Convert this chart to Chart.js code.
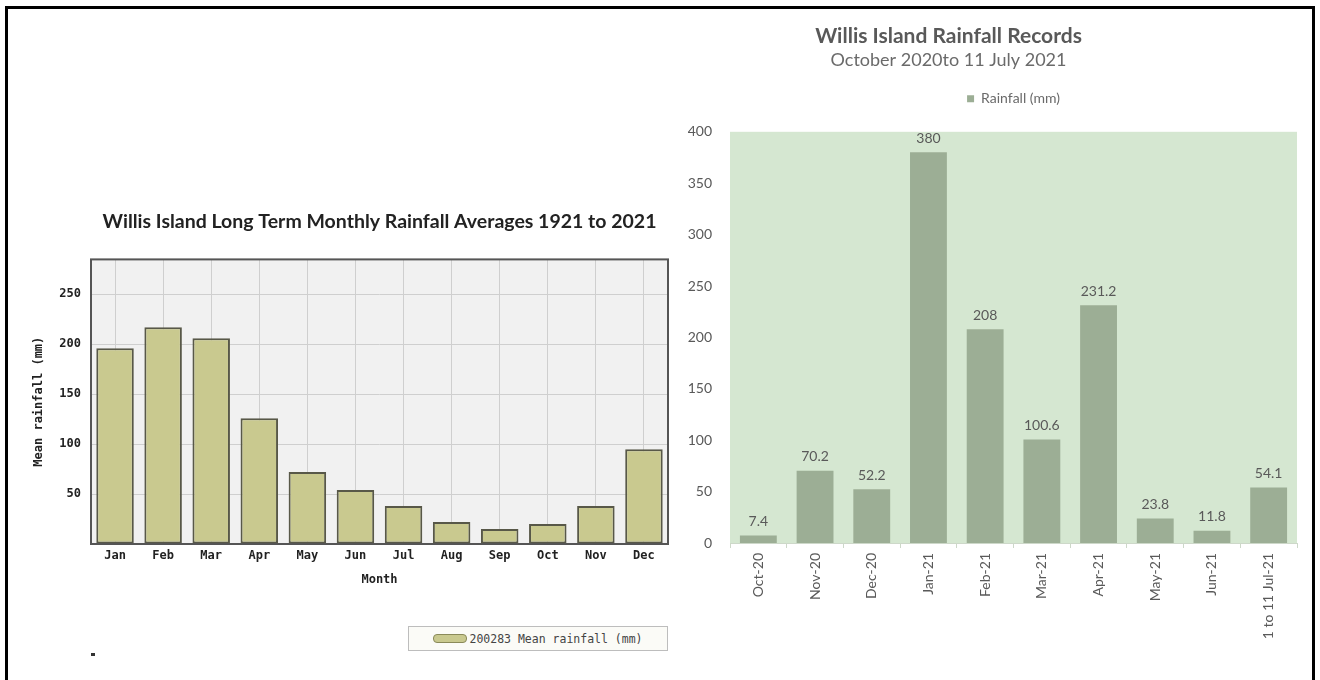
<!DOCTYPE html>
<html>
<head>
<meta charset="utf-8">
<script src="https://cdn.jsdelivr.net/npm/chart.js@4.4.1/dist/chart.umd.min.js"></script>
<style>
  html, body { margin: 0; padding: 0; background: #fff; }
  body { width: 1320px; height: 680px; position: relative; overflow: hidden; }
  #frame { position: absolute; left: 5px; top: 6px; width: 1304px; height: 700px; border: 3px solid #000; border-bottom: none; }
  #boxLeft { position: absolute; left: 20px; top: 195px; width: 660px; height: 400px; }
  #boxRight { position: absolute; left: 600px; top: 0; width: 710px; height: 680px; }
  #legendLeft { position: absolute; left: 408px; top: 626px; width: 258px; height: 23px; border: 1px solid #bdbdbd;
    background: #fbfbf7; font: 11.5px 'DejaVu Sans Mono', monospace; color: #444;
    display: flex; align-items: center; justify-content: center; }
  #legendLeft .sw { width: 32px; height: 7px; border: 1px solid #8a8a5a; border-radius: 4px; background: #c9c98f; margin-right: 2px; }
  #dot { position: absolute; left: 91px; top: 653px; width: 4px; height: 3px; background: #333; }
</style>
</head>
<body>
<div id="frame"></div>
<div id="boxLeft"><canvas id="chartLeft"></canvas></div>
<div id="boxRight"><canvas id="chartRight"></canvas></div>
<div id="legendLeft"><span class="sw"></span><span>200283 Mean rainfall (mm)</span></div>
<div id="dot"></div>
<script>
// long term monthly means (left chart)
const meses = ['Jan', 'Feb', 'Mar', 'Apr', 'May', 'Jun', 'Jul', 'Aug', 'Sep', 'Oct', 'Nov', 'Dec'];
const mediaMensal = [196, 217, 206, 126, 72, 54, 38, 22, 15, 20, 38, 95];

// recent records (right chart)
const periodos = ['Oct-20', 'Nov-20', 'Dec-20', 'Jan-21', 'Feb-21', 'Mar-21', 'Apr-21', 'May-21', 'Jun-21', '1 to 11 Jul-21'];
const chuva = [7.4, 70.2, 52.2, 380, 208, 100.6, 231.2, 23.8, 11.8, 54.1];
const ticksDireita = [0, 50, 100, 150, 200, 250, 300, 350, 400];

const mono = "'DejaVu Sans Mono', monospace";
const sans = "Lato, 'Open Sans', sans-serif";

// fills (and optionally frames) the plot area
const plotFrame = {
  id: 'plotFrame',
  beforeDraw(chart, args, opts) {
    const { ctx, chartArea: a } = chart;
    ctx.save();
    ctx.fillStyle = opts.fill;
    ctx.fillRect(a.left, a.top, a.right - a.left, a.bottom - a.top);
    ctx.restore();
  },
  afterDraw(chart, args, opts) {
    if (!opts.stroke) return;
    const { ctx, chartArea: a } = chart;
    ctx.save();
    ctx.strokeStyle = opts.stroke;
    ctx.lineWidth = opts.lineWidth || 1;
    ctx.strokeRect(a.left, a.top, a.right - a.left, a.bottom - a.top);
    ctx.restore();
  }
};

// value labels above bars
const barValues = {
  id: 'barValues',
  afterDatasetsDraw(chart, args, opts) {
    const { ctx } = chart;
    const meta = chart.getDatasetMeta(0);
    const valores = chart.data.datasets[0].data;
    ctx.save();
    ctx.font = opts.font;
    ctx.fillStyle = opts.color;
    ctx.textAlign = 'center';
    ctx.textBaseline = 'bottom';
    meta.data.forEach((bar, i) => ctx.fillText(String(valores[i]), bar.x, bar.y - 7));
    ctx.restore();
  }
};

// extra space under the legend
const legendGap = {
  id: 'legendGap',
  beforeInit(chart) {
    const fit = chart.legend.fit;
    chart.legend.fit = function () {
      fit.bind(chart.legend)();
      this.height += 16;
    };
  }
};

new Chart(document.getElementById('chartLeft'), {
  type: 'bar',
  data: {
    labels: meses,
    datasets: [{
      label: '200283 Mean rainfall (mm)',
      data: mediaMensal,
      backgroundColor: '#c9c98f',
      borderColor: '#585848',
      borderWidth: 2,
      borderSkipped: false,
      barPercentage: 0.78,
      categoryPercentage: 1
    }]
  },
  options: {
    responsive: true,
    maintainAspectRatio: false,
    animation: false,
    layout: { padding: { right: 12 } },
    plugins: {
      legend: { display: false },
      tooltip: { enabled: false },
      title: {
        display: true,
        fullSize: false,
        text: 'Willis Island Long Term Monthly Rainfall Averages 1921 to 2021',
        color: '#222',
        font: { family: sans, size: 19.5, weight: 'bold' },
        padding: { top: 15, bottom: 26 }
      },
      plotFrame: { fill: '#f1f1f1', stroke: '#555', lineWidth: 2 }
    },
    scales: {
      x: {
        afterFit(scale) { scale.height = 51; },
        grid: { offset: false, drawTicks: false, color: '#cfcfcf' },
        border: { display: false },
        ticks: { color: '#222', padding: 5, font: { family: mono, size: 12, weight: 'bold' } },
        title: {
          display: true, text: 'Month', color: '#222',
          font: { family: mono, size: 12, weight: 'bold' },
          padding: { top: 0, bottom: 8 }
        }
      },
      y: {
        min: 0,
        max: 285,
        afterFit(scale) { scale.width = 71; },
        grid: { drawTicks: false, color: '#cfcfcf' },
        border: { display: false },
        ticks: {
          stepSize: 50,
          padding: 10,
          color: '#222',
          font: { family: mono, size: 12, weight: 'bold' },
          callback: v => (v > 0 && v % 50 === 0) ? v : ''
        },
        title: {
          display: true, text: 'Mean rainfall (mm)', color: '#222',
          font: { family: mono, size: 12, weight: 'bold' },
          padding: { top: 12, bottom: 0 }
        }
      }
    }
  },
  plugins: [plotFrame]
});

new Chart(document.getElementById('chartRight'), {
  type: 'bar',
  data: {
    labels: periodos,
    datasets: [{
      label: 'Rainfall (mm)',
      data: chuva,
      backgroundColor: '#9cae95',
      barPercentage: 0.65,
      categoryPercentage: 1
    }]
  },
  options: {
    responsive: true,
    maintainAspectRatio: false,
    animation: false,
    layout: { padding: { right: 13 } },
    plugins: {
      tooltip: { enabled: false },
      title: {
        display: true,
        text: 'Willis Island Rainfall Records',
        color: '#595959',
        font: { family: sans, size: 21, weight: 'bold' },
        padding: { top: 24, bottom: 0 }
      },
      subtitle: {
        display: true,
        text: 'October 2020to 11 July 2021',
        color: '#6a6a6a',
        font: { family: sans, size: 18 },
        padding: { top: 0, bottom: 11 }
      },
      legend: {
        display: true,
        fullSize: false,
        labels: {
          color: '#6a6a6a',
          boxWidth: 7,
          boxHeight: 7,
          padding: 10,
          font: { family: sans, size: 14 }
        }
      },
      plotFrame: { fill: '#d5e7d1' },
      barValues: { font: '14px ' + sans, color: '#595959' }
    },
    scales: {
      x: {
        afterFit(scale) { scale.height = 137; },
        grid: { drawOnChartArea: false, tickLength: 5, color: '#cdd8c9' },
        border: { color: '#cdd8c9' },
        ticks: {
          minRotation: 90, maxRotation: 90, padding: 5,
          color: '#595959', font: { family: sans, size: 14 }
        }
      },
      y: {
        min: 0,
        max: 400,
        afterFit(scale) { scale.width = 130; },
        afterBuildTicks(scale) { scale.ticks = ticksDireita.map(v => ({ value: v })); },
        grid: { display: false },
        border: { display: false },
        ticks: { padding: 10, color: '#595959', font: { family: sans, size: 14 } }
      }
    }
  },
  plugins: [plotFrame, barValues, legendGap]
});
</script>
</body>
</html>
